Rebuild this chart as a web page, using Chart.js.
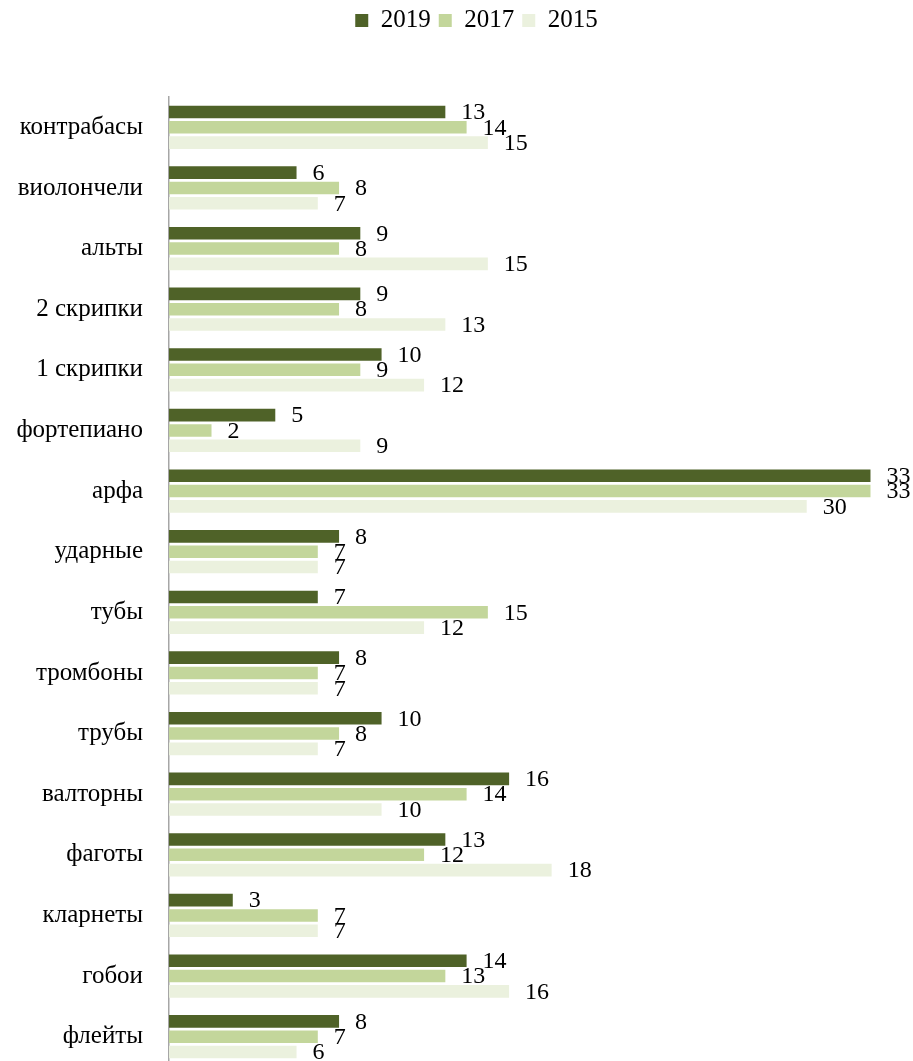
<!DOCTYPE html>
<html>
<head>
<meta charset="utf-8">
<script src="https://cdn.jsdelivr.net/npm/chart.js@4/dist/chart.umd.min.js"></script>
<style>
  html, body { margin: 0; padding: 0; background: #fff; }
  #wrap { width: 913px; height: 1061px; }
</style>
</head>
<body>
<div id="wrap"><canvas id="chart" width="913" height="1061"></canvas></div>
<script>
  // Chart data, top to bottom as in the picture.
  const categories = [
    'контрабасы', 'виолончели', 'альты', '2 скрипки', '1 скрипки', 'фортепиано',
    'арфа', 'ударные', 'тубы', 'тромбоны', 'трубы', 'валторны', 'фаготы',
    'кларнеты', 'гобои', 'флейты'
  ];
  const years = ['2019', '2017', '2015'];
  const values2019 = [13, 6, 9, 9, 10, 5, 33, 8, 7, 8, 10, 16, 13, 3, 14, 8];
  const values2017 = [14, 8, 8, 8, 9, 2, 33, 7, 15, 7, 8, 14, 12, 7, 13, 7];
  const values2015 = [15, 7, 15, 13, 12, 9, 30, 7, 12, 7, 7, 10, 18, 7, 16, 6];
  const colors = ['#4F6228', '#C3D69B', '#EBF1DE'];
  const xMax = 35;

  const serif = '"Liberation Serif", "Times New Roman", serif';

  const layoutTweaks = {
    id: 'layoutTweaks',
    afterLayout: function (chart) {
      // legend sits a bit right of centre in the original
      chart.legend.left += 20;
      chart.legend.right += 20;
      // the last category runs slightly past the bottom edge in the original
      const y = chart.scales.y;
      y.bottom += 6;
      y.height += 6;
      chart.chartArea.bottom += 6;
      chart.chartArea.height += 6;
      y.configure();
    }
  };

  // Value labels to the right of each bar.
  const valueLabels = {
    id: 'valueLabels',
    afterDatasetsDraw: function (chart) {
      const ctx = chart.ctx;
      ctx.save();
      ctx.font = '24px ' + serif;
      ctx.fillStyle = '#000';
      ctx.textAlign = 'left';
      ctx.textBaseline = 'middle';
      chart.data.datasets.forEach(function (ds, i) {
        chart.getDatasetMeta(i).data.forEach(function (bar, j) {
          ctx.fillText(String(ds.data[j]), bar.x + 16, bar.y + 1);
        });
      });
      ctx.restore();
    }
  };

  const seriesValues = [values2019, values2017, values2015];

  new Chart(document.getElementById('chart'), {
    type: 'bar',
    data: {
      labels: categories,
      datasets: years.map(function (y, i) {
        return {
          label: y,
          data: seriesValues[i],
          backgroundColor: colors[i],
          borderWidth: 0,
          categoryPercentage: 0.76,
          barPercentage: 0.82
        };
      })
    },
    options: {
      indexAxis: 'y',
      responsive: false,
      animation: false,
      devicePixelRatio: 1,
      layout: { padding: 0 },
      plugins: {
        legend: {
          position: 'top',
          weight: 3000,
          labels: {
            boxWidth: 13,
            boxHeight: 13,
            padding: 8,
            color: '#000',
            font: { family: serif, size: 25 }
          }
        },
        // empty title used as a spacer between legend and plot
        title: {
          display: true,
          text: ' ',
          font: { size: 10, lineHeight: 1 },
          padding: { top: 0, bottom: 44 }
        },
        tooltip: { enabled: false }
      },
      scales: {
        x: {
          display: false,
          min: 0,
          max: xMax
        },
        y: {
          afterFit: function (scale) {
            scale.width = 169;
            scale.paddingTop = 0;
            scale.paddingBottom = 0;
          },
          grid: { display: false, drawTicks: false },
          border: { display: true, color: '#A6A6A6', width: 1.5 },
          ticks: {
            padding: 26,
            color: '#000',
            font: { family: serif, size: 25 }
          }
        }
      }
    },
    plugins: [layoutTweaks, valueLabels]
  });
</script>
</body>
</html>
